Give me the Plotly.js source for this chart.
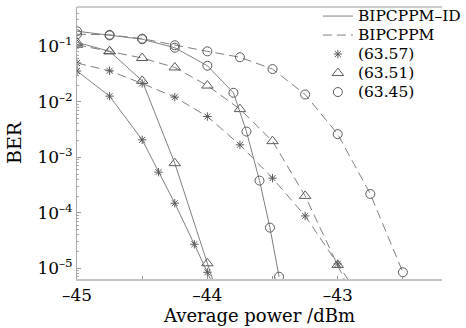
<!DOCTYPE html>
<html>
<head>
<meta charset="utf-8">
<script src="https://cdn.plot.ly/plotly-3.0.1.min.js"></script>
<style>html,body{margin:0;padding:0;background:#fff;}#chart{width:466px;height:328px;}</style>
</head>
<body>
<div id="chart"></div>
<script>
// ---- data ----
// BIPCPPM-ID (solid lines)
const idStarX = [-45, -44.75, -44.5, -44.375, -44.25, -44.1, -44.0, -43.946];
const idStarY = [0.036, 0.0127, 0.00207, 5.41e-4, 1.49e-4, 2.71e-5, 8.47e-6, 4.5e-6];
const idTriX = [-45, -44.75, -44.5, -44.25, -44.0, -43.94];
const idTriY = [0.118, 0.0819, 0.024, 7.85e-4, 1.23e-5, 4.5e-6];
const idCircX = [-45, -44.75, -44.5, -44.25, -44.0, -43.8, -43.7, -43.6, -43.52, -43.45];
const idCircY = [0.188, 0.158, 0.135, 0.0948, 0.0449, 0.0146, 0.00292, 3.81e-4, 5.41e-5, 7.05e-6];
// BIPCPPM (dashed lines)
const bStarX = [-45, -44.75, -44.5, -44.25, -44.0, -43.75, -43.5, -43.25, -43.0, -42.88];
const bStarY = [0.0502, 0.0364, 0.0215, 0.0122, 0.00545, 0.00168, 4.22e-4, 8.79e-5, 1.2e-5, 4.5e-6];
const bTriX = [-45, -44.75, -44.5, -44.25, -44.0, -43.75, -43.5, -43.25, -43.0, -42.92];
const bTriY = [0.107, 0.082, 0.0618, 0.0418, 0.0197, 0.00741, 0.00196, 2.02e-4, 1.15e-5, 4.5e-6];
const bCircX = [-45, -44.75, -44.5, -44.25, -44.0, -43.75, -43.5, -43.25, -43.0, -42.75, -42.5];
const bCircY = [0.166, 0.162, 0.138, 0.105, 0.0816, 0.0638, 0.0391, 0.0136, 0.00262, 2.19e-4, 8.47e-6];

const xTickVals = [-45, -44, -43];
const xTickText = ['–45', '–44', '–43'];
const yTickVals = [1e-5, 1e-4, 1e-3, 1e-2, 1e-1];
const yTickText = ['10<sup>–5</sup>', '10<sup>–4</sup>', '10<sup>–3</sup>', '10<sup>–2</sup>', '10<sup>–1</sup>'];
const legendNames = ['BIPCPPM–ID', 'BIPCPPM', '(63.57)', '(63.51)', '(63.45)'];

// ---- styles ----
const LINE_C = '#808080';
const MARK_C = '#5a5a5a';
const DASH = '9px,5px';
const mStar = {symbol: 'asterisk-open', size: 7, color: MARK_C, line: {color: MARK_C, width: 1}};
const mTri = {symbol: 'triangle-up-open', size: 10, color: MARK_C, line: {color: MARK_C, width: 1}};
const mCirc = {symbol: 'circle-open', size: 9, color: MARK_C, line: {color: MARK_C, width: 1}};

function series(x, y, dash, marker) {
  return {x: x, y: y, type: 'scatter', mode: 'lines+markers', showlegend: false,
          line: {color: LINE_C, width: 1, dash: dash}, marker: marker, hoverinfo: 'skip'};
}
function lg(name) { return '<span style="font-size:15.5px">' + name + '</span>'; }

const traces = [
  series(bCircX, bCircY, DASH, mCirc),
  series(bTriX, bTriY, DASH, mTri),
  series(bStarX, bStarY, DASH, mStar),
  series(idCircX, idCircY, 'solid', mCirc),
  series(idTriX, idTriY, 'solid', mTri),
  series(idStarX, idStarY, 'solid', mStar),
  // legend entries
  {x: [null], y: [null], type: 'scatter', mode: 'lines', name: lg(legendNames[0]), line: {color: LINE_C, width: 1}},
  {x: [null], y: [null], type: 'scatter', mode: 'lines', name: lg(legendNames[1]), line: {color: LINE_C, width: 1, dash: DASH}},
  {x: [null], y: [null], type: 'scatter', mode: 'markers', name: lg(legendNames[2]), marker: mStar},
  {x: [null], y: [null], type: 'scatter', mode: 'markers', name: lg(legendNames[3]), marker: mTri},
  {x: [null], y: [null], type: 'scatter', mode: 'markers', name: lg(legendNames[4]), marker: mCirc}
];

const layout = {
  width: 466, height: 328,
  margin: {l: 77, r: 0, t: 7, b: 49, pad: 0},
  paper_bgcolor: '#fff', plot_bgcolor: '#fff',
  font: {family: 'DejaVu Serif', color: '#000', size: 17},
  xaxis: {
    range: [-45, -42.2], tickmode: 'array', tickvals: xTickVals, ticktext: xTickText,
    ticks: 'inside', ticklen: 3, tickcolor: '#999', showgrid: false, zeroline: false,
    minor: {ticks: 'inside', ticklen: 3, tickcolor: '#999', tick0: -45, dtick: 0.5, showgrid: false},
    showline: true, linecolor: '#c4c4c4', linewidth: 2,
    tickfont: {family: 'DejaVu Serif', size: 17, color: '#000'},
    title: {text: 'Average power /dBm', font: {family: 'DejaVu Serif', size: 18, color: '#000'}, standoff: 4}
  },
  yaxis: {
    type: 'log', range: [-5.193, -0.289], tickmode: 'array', tickvals: yTickVals, ticktext: yTickText,
    ticks: 'inside', ticklen: 4, tickcolor: '#999', showgrid: false, zeroline: false,
    showline: true, linecolor: '#aaaaaa', linewidth: 1,
    minor: {ticks: 'inside', ticklen: 2, tickcolor: '#aaa', dtick: 'D1', showgrid: false},
    tickfont: {family: 'DejaVu Serif', size: 17, color: '#000'},
    title: {text: 'BER', font: {family: 'DejaVu Serif', size: 19, color: '#000'}, standoff: 10}
  },
  shapes: [
    {type: 'line', xref: 'paper', yref: 'paper', x0: 0, x1: 1, y0: 1, y1: 1, line: {color: '#999', width: 1}}
  ],
  legend: {
    x: 0.66, y: 1.02, xanchor: 'left', yanchor: 'top', bgcolor: 'rgba(0,0,0,0)',
    font: {family: 'DejaVu Serif', size: 12, color: '#000'}, borderwidth: 0
  },
  showlegend: true
};

Plotly.newPlot('chart', traces, layout, {displayModeBar: false, staticPlot: true});
</script>
</body>
</html>
